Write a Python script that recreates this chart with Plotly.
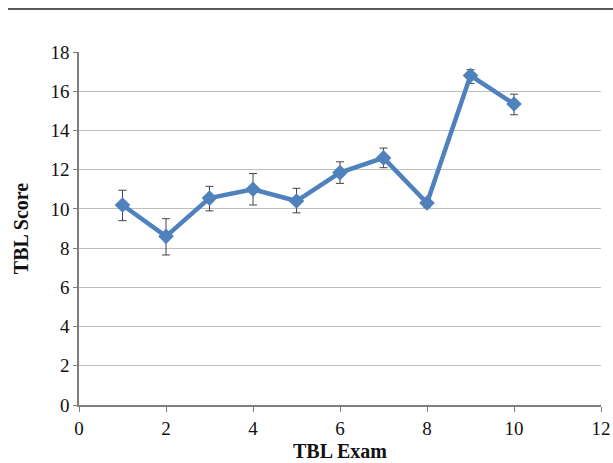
import plotly.graph_objects as go

exams = [1, 2, 3, 4, 5, 6, 7, 8, 9, 10]
scores = [10.2, 8.6, 10.55, 11.0, 10.4, 11.85, 12.6, 10.3, 16.8, 15.35]
err_plus = [0.75, 0.9, 0.6, 0.8, 0.65, 0.55, 0.5, 0.2, 0.3, 0.5]
err_minus = [0.8, 0.95, 0.65, 0.8, 0.6, 0.55, 0.5, 0.2, 0.4, 0.55]

x_ticks = [0, 2, 4, 6, 8, 10, 12]
y_ticks = [0, 2, 4, 6, 8, 10, 12, 14, 16, 18]

font_family = "Liberation Serif, DejaVu Serif, serif"

fig = go.Figure()
fig.add_trace(go.Scatter(
    x=exams, y=scores, mode="lines+markers",
    line=dict(color="#4F81BD", width=4.5),
    marker=dict(symbol="diamond", size=12, color="#4F81BD"),
    error_y=dict(type="data", symmetric=False, array=err_plus, arrayminus=err_minus,
                 color="#444444", thickness=1, width=4),
    showlegend=False,
))

fig.update_layout(
    width=613, height=463,
    margin=dict(l=79, r=12, t=52, b=58),
    paper_bgcolor="white", plot_bgcolor="white",
    font=dict(family=font_family, size=19, color="#111111"),
    xaxis=dict(range=[0, 12], tickvals=x_ticks, showgrid=False,
               showline=True, linecolor="#7f7f7f", linewidth=1.5,
               ticks="outside", ticklen=5, tickcolor="#7f7f7f",
               title=dict(text="<b>TBL Exam</b>", font=dict(size=20, family=font_family), standoff=6),
               zeroline=False, automargin=False),
    yaxis=dict(range=[0, 18], tickvals=y_ticks, showgrid=True, gridcolor="#bfbfbf", gridwidth=1,
               showline=True, linecolor="#7f7f7f", linewidth=1.5,
               ticks="outside", ticklen=4, tickcolor="#7f7f7f",
               title=dict(text="<b>TBL Score</b>", font=dict(size=20, family=font_family), standoff=16),
               zeroline=False, automargin=False),
    shapes=[dict(type="line", xref="paper", yref="paper",
                 x0=-0.136, x1=1.03, y0=1.122, y1=1.122,
                 line=dict(color="#222222", width=1.5))],
)

fig.write_html("out.html", config={"displayModeBar": False},
               post_script="document.body.style.margin='0px';document.body.style.overflow='hidden';")
